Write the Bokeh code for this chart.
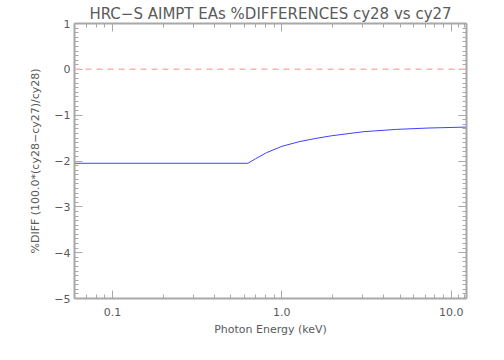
from bokeh.plotting import figure
from bokeh.models import (LinearAxis, LogAxis, FixedTicker, SingleIntervalTicker,
                          Range1d, Span, CustomJSTickFormatter)
from bokeh.embed import file_html
from bokeh.resources import INLINE

# ---- data ----
title_text = "HRC\u2212S AIMPT EAs %DIFFERENCES cy28 vs cy27"
x_label = "Photon Energy (keV)"
y_label = "%DIFF (100.0*(cy28\u2212cy27)/cy28)"

energy = [0.06, 0.63, 0.70, 0.81, 1.00, 1.26, 1.57, 1.96, 3.05, 4.75, 7.38, 12.3]
pct_diff = [-2.05, -2.05, -1.95, -1.82, -1.68, -1.58, -1.51, -1.45, -1.36, -1.31, -1.28, -1.26]

x_major = [0.1, 1.0, 10.0]
x_major_labels = ["0.1", "1.0", "10.0"]
x_minor = [0.06, 0.07, 0.08, 0.09, 0.2, 0.3, 0.4, 0.5, 0.6, 0.7, 0.8, 0.9,
           2, 3, 4, 5, 6, 7, 8, 9, 11, 12]
y_major = [-5, -4, -3, -2, -1, 0, 1]
y_major_labels = ["\u22125", "\u22124", "\u22123", "\u22122", "\u22121", "0", "1"]

FONT = "DejaVu Sans"
TXT = "#5a5a5a"
AX = "#a8a8a8"

L, R, T, B = 74, 22, 23, 46
W, H = 488, 344

p = figure(width=W, height=H, x_axis_type="log",
           x_range=Range1d(0.0597, 12.3), y_range=Range1d(-5, 1),
           output_backend="svg", toolbar_location=None,
           min_border_left=L, min_border_right=R,
           min_border_top=T, min_border_bottom=B)
p.xgrid.visible = False
p.ygrid.visible = False
p.outline_line_color = None
p.background_fill_color = "white"

p.title.text = title_text
p.title.align = "center"
p.title.text_font = FONT
p.title.text_font_size = "15px"
p.title.text_font_style = "normal"
p.title.text_color = TXT
p.title.standoff = 2
p.title.offset = 0

def style(ax, labels=True):
    ax.axis_line_color = AX
    ax.axis_line_width = 2
    ax.major_tick_line_color = AX
    ax.minor_tick_line_color = AX
    ax.major_tick_in = 8
    ax.major_tick_out = 0
    ax.minor_tick_in = 4
    ax.minor_tick_out = 0
    ax.major_label_text_font = FONT
    ax.major_label_text_font_size = "11px"
    ax.major_label_text_color = TXT
    ax.axis_label_text_font = FONT
    ax.axis_label_text_font_size = "11px"
    ax.axis_label_text_color = TXT
    ax.axis_label_text_font_style = "normal"
    if not labels:
        ax.major_label_text_color = None
        ax.major_label_text_font_size = "1px"
        ax.major_label_standoff = 0

def fmt(vals, labs):
    return CustomJSTickFormatter(args=dict(vals=vals, labs=labs), code="""
        for (let i = 0; i < vals.length; i++) {
            if (Math.abs(tick - vals[i]) <= 1e-9 * Math.max(1, Math.abs(vals[i]))) return labs[i];
        }
        return '';
    """)

xt = FixedTicker(ticks=x_major, minor_ticks=x_minor)
yt = SingleIntervalTicker(interval=1, num_minor_ticks=10)

xb = p.xaxis[0]
xb.ticker = xt
xb.formatter = fmt(x_major, x_major_labels)
xb.axis_label = x_label
style(xb)
xb.major_label_standoff = 9
xb.axis_label_standoff = 4

yl = p.yaxis[0]
yl.ticker = yt
yl.formatter = fmt(y_major, y_major_labels)
yl.axis_label = y_label
style(yl)
yl.major_label_standoff = 4
yl.axis_label_standoff = 9

xa = LogAxis(ticker=xt)
style(xa, labels=False)
p.add_layout(xa, "above")
yr = LinearAxis(ticker=yt)
style(yr, labels=False)
p.add_layout(yr, "right")

p.add_layout(Span(location=0, dimension="width", line_color="#ffb0b0",
                  line_width=1.5, line_dash="6 5"))
p.line(energy, pct_diff, line_color="#4040ff", line_width=1)

open("out.html", "w").write(file_html(p, INLINE))
